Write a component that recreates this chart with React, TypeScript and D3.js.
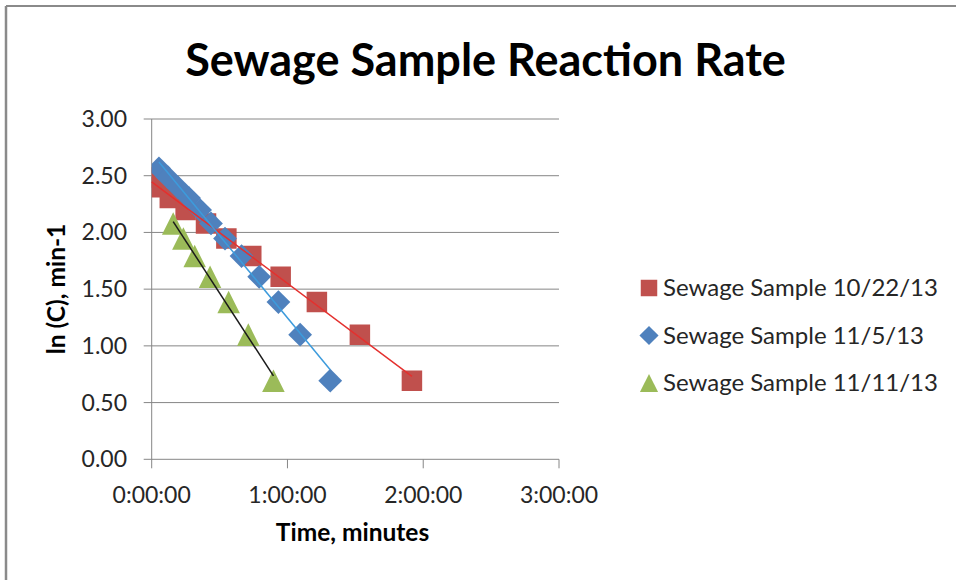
import React from "react";
import * as d3 from "d3";

const W = 956;
const H = 580;
const title = "Sewage Sample Reaction Rate";
const xTitle = "Time, minutes";
const yTitle = "ln (C), min-1";
const yTicks = [0, 0.5, 1, 1.5, 2, 2.5, 3];
const xTicksMin = [0, 60, 120, 180];
const xTickLabels = ["0:00:00", "1:00:00", "2:00:00", "3:00:00"];

const seriesNames = ["Sewage Sample 10/22/13", "Sewage Sample 11/5/13", "Sewage Sample 11/11/13"];
const redTime = [0, 2.5, 8, 15, 24, 33, 44, 57, 73, 92, 115];
const redLnC = [2.485, 2.398, 2.303, 2.197, 2.079, 1.946, 1.792, 1.609, 1.386, 1.099, 0.693];
const blueTime = [3.2, 7.2, 11.6, 16.5, 21.4, 26.2, 32.4, 39.7, 47.5, 56, 65.6, 78.9];
const blueLnC = [2.565, 2.485, 2.398, 2.303, 2.197, 2.079, 1.946, 1.792, 1.609, 1.386, 1.099, 0.693];
const greenTime = [9.5, 14, 19, 25.8, 34, 42.7, 53.8];
const greenLnC = [2.079, 1.946, 1.792, 1.609, 1.386, 1.099, 0.693];

const markerColors = ["#C0504D", "#4F81BD", "#9BBB59"];
const trendColors = ["#E4302E", "#3D9BDC", "#1a1a1a"];
const FONT = "Lato, 'Open Sans', sans-serif";

type Pt = { t: number; v: number };

function fit(pts: Pt[]) {
  const mx = d3.mean(pts, (p) => p.t)!;
  const my = d3.mean(pts, (p) => p.v)!;
  let num = 0, den = 0;
  pts.forEach((p) => {
    num += (p.t - mx) * (p.v - my);
    den += (p.t - mx) * (p.t - mx);
  });
  const b = num / den;
  const a = my - b * mx;
  const [t0, t1] = d3.extent(pts, (p) => p.t) as [number, number];
  return [
    { t: t0, v: a + b * t0 },
    { t: t1, v: a + b * t1 },
  ];
}

function markerPath(kind: number, cx: number, cy: number, s: number) {
  if (kind === 0) {
    const h = s / 2;
    return `M${cx - h},${cy - h}H${cx + h}V${cy + h}H${cx - h}Z`;
  }
  if (kind === 1) {
    const h = s * 0.58;
    return `M${cx},${cy - h}L${cx + h},${cy}L${cx},${cy + h}L${cx - h},${cy}Z`;
  }
  const h = s * 0.55;
  return `M${cx},${cy - h}L${cx + h},${cy + h}L${cx - h},${cy + h}Z`;
}

export default function App() {
  const x = d3.scaleLinear().domain([0, 180]).range([151.7, 559]);
  const y = d3.scaleLinear().domain([0, 3]).range([459.3, 119]);

  const series: Pt[][] = [
    redTime.map((t, i) => ({ t, v: redLnC[i] })),
    blueTime.map((t, i) => ({ t, v: blueLnC[i] })),
    greenTime.map((t, i) => ({ t, v: greenLnC[i] })),
  ];
  const line = d3
    .line<Pt>()
    .x((p) => x(p.t))
    .y((p) => y(p.v));

  const axisColor = "#868686";
  const [x0, x1] = x.range();
  const [y0, y1] = y.range();

  const legendY = [288, 335.5, 383];

  return (
    <svg
      width={W}
      height={H}
      style={{ position: "absolute", left: 0, top: 0, background: "#fff" }}
      fontFamily={FONT}
    >
      <defs>
        <clipPath id="plotClip">
          <rect x={x0} y={y1 - 20} width={x1 - x0 + 20} height={y0 - y1 + 40} />
        </clipPath>
      </defs>
      <rect x={0} y={0} width={W} height={H} fill="#fff" />
      <line x1={6} y1={6} x2={W} y2={6} stroke="#8a8a8a" strokeWidth={2} />
      <line x1={6} y1={6} x2={6} y2={H} stroke="#8a8a8a" strokeWidth={2.5} />

      <text x={485.5} y={76} textAnchor="middle" fontSize={45} fontWeight="bold" fill="#000">
        {title}
      </text>

      {/* gridlines */}
      {yTicks.map((v) => (
        <line key={"g" + v} x1={x0 - 8} x2={x1} y1={y(v)} y2={y(v)} stroke={axisColor} strokeWidth={1} />
      ))}
      {/* y axis */}
      <line x1={x0} x2={x0} y1={y1} y2={y0} stroke={axisColor} strokeWidth={1} />
      {yTicks.map((v) => (
        <text key={"yl" + v} x={127} y={y(v)} dy="0.35em" textAnchor="end" fontSize={23} fill="#262626">
          {v.toFixed(2)}
        </text>
      ))}
      {/* x axis ticks */}
      {xTicksMin.map((m, i) => (
        <g key={"xt" + m}>
          <line x1={x(m)} x2={x(m)} y1={y0} y2={y0 + 9} stroke={axisColor} strokeWidth={1} />
          <text x={x(m)} y={503} textAnchor="middle" fontSize={23} fill="#262626">
            {xTickLabels[i]}
          </text>
        </g>
      ))}

      <text x={352.5} y={541} textAnchor="middle" fontSize={24.5} fontWeight="bold" fill="#000">
        {xTitle}
      </text>
      <text
        transform={`translate(65,289) rotate(-90)`}
        textAnchor="middle"
        fontSize={24.5}
        fontWeight="bold"
        fill="#000"
      >
        {yTitle}
      </text>

      {/* markers */}
      <g clipPath="url(#plotClip)">
        {series.map((pts, k) =>
          pts.map((p, i) => (
            <path key={`m${k}-${i}`} d={markerPath(k, x(p.t), y(p.v), 20.5)} fill={markerColors[k]} />
          ))
        )}
      </g>
      {/* trendlines */}
      {series.map((pts, k) => (
        <path key={"tr" + k} d={line(fit(pts)) || ""} fill="none" stroke={trendColors[k]} strokeWidth={1.5} />
      ))}

      {/* legend */}
      {seriesNames.map((name, k) => (
        <g key={"lg" + k}>
          <path d={markerPath(k, 649, legendY[k], 16.5)} fill={markerColors[k]} />
          <text x={663} y={legendY[k]} dy="0.35em" fontSize={24} fill="#262626">
            {name}
          </text>
        </g>
      ))}
    </svg>
  );
}
